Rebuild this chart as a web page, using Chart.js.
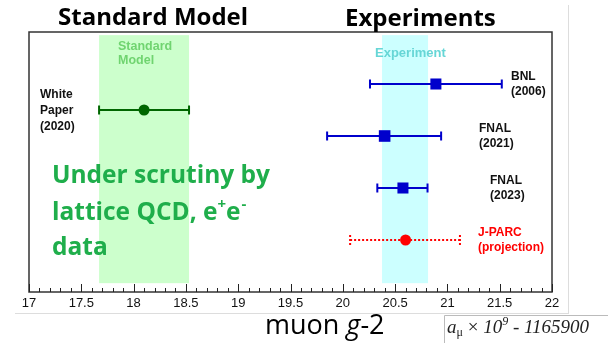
<!DOCTYPE html>
<html>
<head>
<meta charset="utf-8">
<script src="https://cdn.jsdelivr.net/npm/chart.js@4.4.1/dist/chart.umd.min.js"></script>
<style>
html,body{margin:0;padding:0;background:#fff;}
#wrap{width:608px;height:343px;position:relative;}
</style>
</head>
<body>
<div id="wrap"><canvas id="c" width="608" height="343"></canvas></div>
<script>
// ---- data ----
const names = ['White Paper (2020)', 'BNL (2006)', 'FNAL (2021)', 'FNAL (2023)', 'J-PARC (projection)'];
const labelLines = [['White', 'Paper', '(2020)'], ['BNL', '(2006)'], ['FNAL', '(2021)'], ['FNAL', '(2023)'], ['J-PARC', '(projection)']];
const centralValues = [18.10, 20.89, 20.40, 20.575, 20.60];
const lowerValues = [17.67, 20.26, 19.85, 20.33, 20.07];
const upperValues = [18.53, 21.52, 20.94, 20.81, 21.12];
const rows = [1.5, 1, 2, 3, 4];
const smBand = [17.67, 18.53];
const expBand = [20.375, 20.815];
const xTicks = [17, 17.5, 18, 18.5, 19, 19.5, 20, 20.5, 21, 21.5, 22];

// ---- styles ----
const colors = ['#006600', '#0000cc', '#0000cc', '#0000cc', '#ff0000'];
const shapes = ['circle', 'rect', 'rect', 'rect', 'circle'];
const radii = [5.5, 7.8, 8.2, 7.8, 5.5];
const dashed = [false, false, false, false, true];
const labelX = [40, 511, 479, 490, 478];
const labelY = [[95, 111, 127], [77, 92], [129, 144], [181, 196], [233, 248]];

const datasets = names.map((n, i) => ({
  label: n,
  data: [{x: centralValues[i], y: rows[i]}],
  pointStyle: shapes[i],
  pointRadius: radii[i],
  pointHoverRadius: radii[i],
  backgroundColor: colors[i],
  borderColor: colors[i],
  borderWidth: 0
}));

const drawPlugin = {
  id: 'gm2',
  beforeDatasetsDraw(chart) {
    const ctx = chart.ctx, xs = chart.scales.x, ys = chart.scales.y, a = chart.chartArea;
    ctx.save();
    // bands
    const bTop = ys.getPixelForValue(0.06), bBot = ys.getPixelForValue(4.83);
    ctx.fillStyle = '#ccffcc';
    ctx.fillRect(xs.getPixelForValue(smBand[0]), bTop, xs.getPixelForValue(smBand[1]) - xs.getPixelForValue(smBand[0]), bBot - bTop);
    ctx.fillStyle = '#ccffff';
    ctx.fillRect(xs.getPixelForValue(expBand[0]), bTop, xs.getPixelForValue(expBand[1]) - xs.getPixelForValue(expBand[0]), bBot - bTop);
    // frame
    ctx.strokeStyle = '#333';
    ctx.lineWidth = 1.5;
    ctx.strokeRect(a.left, a.top, a.right - a.left, a.bottom - a.top);
    // inward ticks
    ctx.lineWidth = 1;
    ctx.strokeStyle = '#222';
    for (let k = 0; k <= 50; k++) {
      const v = 17 + k * 0.1;
      const px = Math.round(xs.getPixelForValue(v)) + 0.5;
      const len = (k % 5 === 0) ? 8 : 4;
      ctx.beginPath();
      ctx.moveTo(px, a.bottom);
      ctx.lineTo(px, a.bottom - len);
      ctx.stroke();
    }
    // error bars
    names.forEach((n, i) => {
      const y = ys.getPixelForValue(rows[i]);
      const x1 = xs.getPixelForValue(lowerValues[i]);
      const x2 = xs.getPixelForValue(upperValues[i]);
      ctx.strokeStyle = colors[i];
      ctx.lineWidth = 2;
      ctx.setLineDash(dashed[i] ? [2, 2] : []);
      ctx.beginPath();
      ctx.moveTo(x1, y); ctx.lineTo(x2, y);
      ctx.stroke();
      const cap = dashed[i] ? 5 : 4.5;
      ctx.beginPath();
      ctx.moveTo(x1, y - cap); ctx.lineTo(x1, y + cap);
      ctx.moveTo(x2, y - cap); ctx.lineTo(x2, y + cap);
      ctx.stroke();
    });
    ctx.setLineDash([]);
    ctx.restore();
  },
  afterDraw(chart) {
    const ctx = chart.ctx;
    ctx.save();
    // faint page lines
    ctx.strokeStyle = '#dddddd';
    ctx.lineWidth = 1;
    ctx.beginPath();
    ctx.moveTo(568.5, 5); ctx.lineTo(568.5, 314);
    ctx.moveTo(15, 313.5); ctx.lineTo(568.5, 313.5);
    ctx.stroke();
    ctx.strokeStyle = '#bbbbbb';
    ctx.beginPath();
    ctx.moveTo(444.5, 343); ctx.lineTo(444.5, 315.5); ctx.lineTo(608, 315.5);
    ctx.stroke();

    // titles
    ctx.fillStyle = '#000';
    ctx.textBaseline = 'alphabetic';
    ctx.textAlign = 'left';
    ctx.font = 'bold 24px "Open Sans"';
    ctx.fillText('Standard Model', 58, 25);
    ctx.fillText('Experiments', 345, 26);

    // band labels
    ctx.textBaseline = 'middle';
    ctx.font = 'bold 12.5px "Liberation Sans"';
    ctx.fillStyle = '#70d470';
    ctx.fillText('Standard', 118, 47);
    ctx.fillText('Model', 118, 61);
    ctx.font = 'bold 13px "Liberation Sans"';
    ctx.fillStyle = '#66d6d6';
    ctx.fillText('Experiment', 375, 53);

    // point labels
    ctx.font = 'bold 12px "Liberation Sans"';
    labelLines.forEach((lines, i) => {
      ctx.fillStyle = i === 4 ? '#ff0000' : '#111';
      lines.forEach((t, j) => ctx.fillText(t, labelX[i], labelY[i][j]));
    });

    // green commentary
    ctx.textBaseline = 'alphabetic';
    ctx.fillStyle = '#1fae4b';
    const big = 'bold 24.5px "Open Sans"', small = 'bold 15px "Open Sans"';
    ctx.font = big;
    ctx.fillText('Under scrutiny by', 52, 183);
    let x = 52;
    const l2 = 'lattice QCD, e';
    ctx.fillText(l2, x, 220); x += ctx.measureText(l2).width;
    ctx.font = small;
    ctx.fillText('+', x, 209); x += ctx.measureText('+').width;
    ctx.font = big;
    ctx.fillText('e', x, 220); x += ctx.measureText('e').width;
    ctx.font = small;
    ctx.fillText('-', x + 1, 209);
    ctx.font = big;
    ctx.fillText('data', 52, 255);

    // axis title
    ctx.fillStyle = '#000';
    ctx.font = '27px "Open Sans"';
    x = 265;
    ctx.fillText('muon ', x, 334); x += ctx.measureText('muon ').width;
    ctx.font = 'italic 27px "Open Sans"';
    ctx.fillText('g', x, 334); x += ctx.measureText('g').width;
    ctx.font = '27px "Open Sans"';
    ctx.fillText('-2', x, 334);

    // unit label
    ctx.fillStyle = '#222';
    x = 447;
    const seg = (t, f, dy) => { ctx.font = f; ctx.fillText(t, x, 333 + (dy || 0)); x += ctx.measureText(t).width; };
    seg('a', 'italic 19px "Liberation Serif"');
    seg('\u03bc', '12px "Liberation Serif"', 3);
    seg(' \u00d7 ', '19px "Liberation Serif"');
    seg('10', 'italic 19px "Liberation Serif"');
    seg('9', 'italic 12px "Liberation Serif"', -8);
    seg(' - 1165900', 'italic 19px "Liberation Serif"');
    ctx.restore();
  }
};

new Chart(document.getElementById('c'), {
  type: 'scatter',
  data: { datasets },
  options: {
    responsive: false,
    animation: false,
    events: [],
    layout: { padding: { left: 29, right: 56, top: 32, bottom: 0 } },
    plugins: { legend: { display: false }, tooltip: { enabled: false } },
    scales: {
      x: {
        type: 'linear',
        min: 17, max: 22,
        afterFit: s => { s.height = 51; },
        afterBuildTicks: s => { s.ticks = xTicks.map(v => ({ value: v })); },
        grid: { display: false, drawTicks: false },
        border: { display: false },
        ticks: {
          padding: 4, autoSkip: false, maxRotation: 0, color: '#111',
          font: { family: '"Liberation Sans"', size: 13 },
          callback: v => String(Math.round(v * 10) / 10)
        }
      },
      y: {
        type: 'linear',
        display: false,
        min: 0, max: 5,
        reverse: true
      }
    }
  },
  plugins: [drawPlugin]
});
</script>
</body>
</html>
